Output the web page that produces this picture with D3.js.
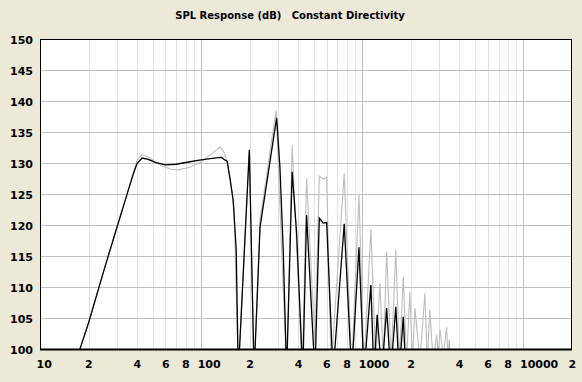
<!DOCTYPE html>
<html>
<head>
<meta charset="utf-8">
<script src="https://cdn.jsdelivr.net/npm/d3@7"></script>
<style>
  body { margin: 0; background: #ece9d8; }
  svg text { font-family: "DejaVu Sans", Verdana, sans-serif; font-weight: bold; }
</style>
</head>
<body>
<div id="chart"></div>
<script>
/** chart data **/
var titleText = "SPL Response (dB)   Constant Directivity";
var yTicks = [100, 105, 110, 115, 120, 125, 130, 135, 140, 145, 150];
var xLabelValues = [10, 20, 40, 60, 80, 100, 200, 400, 600, 800, 1000, 2000, 4000, 6000, 8000, 10000, 20000];
var xLabelTexts = ["10", "2", "4", "6", "8", "100", "2", "4", "6", "8", "1000", "2", "4", "6", "8", "10000", "2"];

// black trace (on axis)
var mainFreq = [17.7, 20, 25, 30, 35, 38, 40, 43, 47, 52, 60, 70, 85, 100, 120, 134, 140, 145, 151, 158, 165, 170,
    199, 213, 232, 255, 280, 294, 308, 323, 339, 367, 391, 427, 451, 508, 541, 571, 601, 658,
    772, 859, 953, 1024, 1130, 1180, 1236, 1319, 1416, 1500, 1614, 1693, 1795, 1862];
var mainDb = [100, 104.2, 112.8, 119.6, 125.3, 128.3, 129.9, 130.8, 130.6, 130.1, 129.7, 129.8, 130.2, 130.5, 130.8, 130.9, 130.5, 130.3, 127.5, 124, 116, 96,
    132.1, 96, 119.7, 126.7, 133.7, 137.3, 129.4, 116, 96, 128.6, 118.7, 96, 121.6, 96, 121.1, 120.3, 120.4, 96,
    120.2, 96, 116.4, 96, 110.3, 96, 105.5, 96, 106.6, 96, 106.8, 96, 105.2, 96];

// grey trace (off axis)
var offFreq = [17.7, 20, 25, 30, 35, 38, 40, 43, 48, 55, 65, 72, 85, 100, 115, 131, 138, 144, 152, 160, 170,
    199, 213, 232, 255, 280, 292, 339, 367, 424, 451, 508, 541, 571, 601, 640,
    772, 859, 953, 1024, 1130, 1210, 1286, 1350, 1416, 1510, 1614, 1700, 1795, 1880, 1974, 2045, 2119, 2280,
    2444, 2530, 2624, 2750, 2890, 2960, 3030, 3180, 3333, 3400, 3462, 3520];
var offDb = [100, 104.2, 112.8, 119.6, 125.3, 128.5, 130.4, 131.4, 130.8, 129.7, 129.0, 128.9, 129.3, 130.2, 131.4, 132.6, 131.8, 130.5, 127, 122.5, 96,
    132.3, 96, 121, 128, 135.5, 138.5, 96, 132.9, 96, 127.5, 101, 127.9, 127.4, 127.7, 97,
    128.3, 97, 124.8, 97, 119.3, 98, 110.6, 98, 115.7, 98, 116, 98, 111.7, 98, 109.2, 98, 106.6, 98,
    109, 98, 106.3, 98, 102.3, 99, 103.2, 99, 103.5, 99, 101.5, 98];

/** layout **/
var width = 582,
    height = 382,
    plotLeft = 40,
    plotRight = 572,
    plotTop = 39,
    plotBottom = 349;

var svg = d3.select("#chart").append("svg")
    .attr("width", width)
    .attr("height", height);

svg.append("rect")
    .attr("width", width)
    .attr("height", height)
    .style("fill", "#ece9d8");

var x = d3.scaleLog().domain([10, 20000]).range([plotLeft, plotRight]);
var y = d3.scaleLinear().domain([100, 150]).range([plotBottom, plotTop]);

svg.append("rect")
    .attr("x", plotLeft)
    .attr("y", plotTop)
    .attr("width", plotRight - plotLeft)
    .attr("height", plotBottom - plotTop)
    .style("fill", "white");

/** grid lines **/
var minorTicks = [];
for (var dec = 10; dec < 20000; dec *= 10) {
    for (var m = 2; m <= 9; m++) {
        if (dec * m < 20000) minorTicks.push(dec * m);
    }
}
var decadeTicks = [100, 1000, 10000];

svg.append("g").selectAll("line")
    .data(minorTicks)
    .enter().append("line")
    .attr("x1", function(d) { return Math.round(x(d)) + 0.5; })
    .attr("x2", function(d) { return Math.round(x(d)) + 0.5; })
    .attr("y1", plotTop)
    .attr("y2", plotBottom)
    .style("stroke", "#e2e2e2");

svg.append("g").selectAll("line")
    .data(yTicks.slice(1, -1))
    .enter().append("line")
    .attr("x1", plotLeft)
    .attr("x2", plotRight)
    .attr("y1", function(d) { return Math.round(y(d)) + 0.5; })
    .attr("y2", function(d) { return Math.round(y(d)) + 0.5; })
    .style("stroke", "#c0c0c0");

svg.append("g").selectAll("line")
    .data(decadeTicks)
    .enter().append("line")
    .attr("x1", function(d) { return Math.round(x(d)) + 0.5; })
    .attr("x2", function(d) { return Math.round(x(d)) + 0.5; })
    .attr("y1", plotTop)
    .attr("y2", plotBottom)
    .style("stroke", "#c0c0c0");

/** traces **/
svg.append("clipPath").attr("id", "plotClip")
    .append("rect")
    .attr("x", plotLeft)
    .attr("y", plotTop)
    .attr("width", plotRight - plotLeft)
    .attr("height", plotBottom - plotTop);

var line = d3.line()
    .x(function(d) { return x(d[0]); })
    .y(function(d) { return y(d[1]); });

svg.append("path")
    .datum(d3.zip(offFreq, offDb))
    .attr("clip-path", "url(#plotClip)")
    .attr("d", line)
    .style("fill", "none")
    .style("stroke", "#bdbdbd")
    .style("stroke-width", 1.1);

svg.append("path")
    .datum(d3.zip(mainFreq, mainDb))
    .attr("clip-path", "url(#plotClip)")
    .attr("d", line)
    .style("fill", "none")
    .style("stroke", "#000")
    .style("stroke-width", 1.3);

/** frame **/
svg.append("rect")
    .attr("x", plotLeft + 0.5)
    .attr("y", plotTop + 0.5)
    .attr("width", plotRight - plotLeft - 1)
    .attr("height", plotBottom - plotTop)
    .style("fill", "none")
    .style("stroke", "#000");

svg.append("line")
    .attr("x1", plotLeft)
    .attr("x2", plotRight)
    .attr("y1", plotBottom + 0.5)
    .attr("y2", plotBottom + 0.5)
    .style("stroke", "#000")
    .style("stroke-width", 2);

/** labels **/
svg.append("g").selectAll("text")
    .data(yTicks)
    .enter().append("text")
    .attr("x", 33)
    .attr("y", function(d) { return y(d) + 5; })
    .attr("text-anchor", "end")
    .style("font-size", "11px")
    .style("fill", "#000")
    .text(function(d) { return d; });

svg.append("g").selectAll("text")
    .data(xLabelValues)
    .enter().append("text")
    .attr("x", function(d) { return x(d) - 3.5; })
    .attr("y", 368)
    .style("font-size", "11px")
    .style("fill", "#000")
    .text(function(d, i) { return xLabelTexts[i]; });

svg.append("text")
    .attr("x", 290)
    .attr("y", 19)
    .attr("text-anchor", "middle")
    .style("font-size", "10px")
    .style("white-space", "pre")
    .style("fill", "#000")
    .text(titleText);
</script>
</body>
</html>
